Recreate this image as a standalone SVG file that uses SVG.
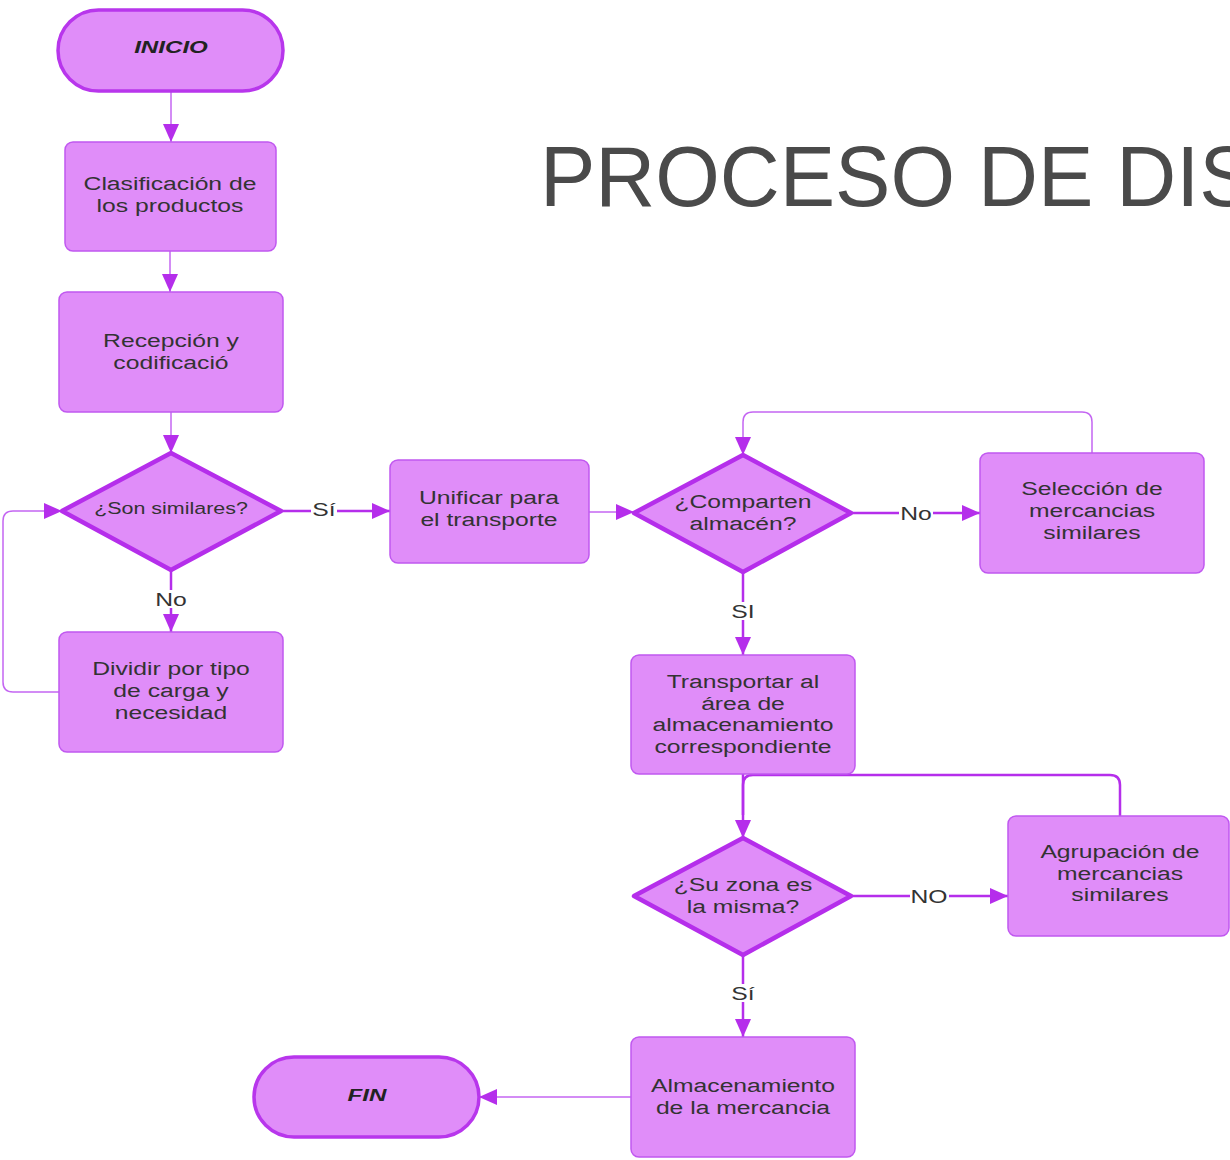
<svg xmlns="http://www.w3.org/2000/svg" width="1230" height="1160" viewBox="0 0 1230 1160">
<style>
.box{fill:#e08df9;stroke:#c058f0;stroke-width:1.5}
.term{fill:#e08df9;stroke:#b836ec;stroke-width:3.5}
.dia{fill:#e08df9;stroke:#b52eeb;stroke-width:4.5;stroke-linejoin:round}
.t{font-family:"Liberation Sans",Arial,sans-serif;font-size:19px;fill:#333;text-anchor:middle}
.tb{font-family:"Liberation Sans",Arial,sans-serif;font-size:17px;font-weight:bold;font-style:italic;fill:#222;text-anchor:middle}
.lbl{font-family:"Liberation Sans",Arial,sans-serif;font-size:19px;fill:#333;text-anchor:middle}
.thin{fill:none;stroke:#c466f2;stroke-width:1.5}
.thick{fill:none;stroke:#b52eeb;stroke-width:2.5}
.bg{fill:#fff}
</style>
<defs>
<marker id="ah" markerWidth="18" markerHeight="16" refX="18" refY="8" orient="auto" markerUnits="userSpaceOnUse">
<path d="M0,0 L18,8 L0,16 z" fill="#b52eeb"/>
</marker>
</defs>
<rect width="1230" height="1160" fill="#fff"/>
<text id="title" x="540" y="206" transform="matrix(0.965 0 0 1 18.9 0)" font-family="'Liberation Sans',Arial,sans-serif" font-size="86" fill="#4a4a4a">PROCESO DE DIS</text>

<g id="connectors">
<path class="thin" d="M171,91 V142" marker-end="url(#ah)"/>
<path class="thin" d="M170,251 V292" marker-end="url(#ah)"/>
<path class="thin" d="M171,412 V453" marker-end="url(#ah)"/>
<path class="thick" d="M281,511 H390" marker-end="url(#ah)"/>
<path class="thick" d="M171,570 V632" marker-end="url(#ah)"/>
<path class="thin" d="M59,692 H13 Q3,692 3,682 V521 Q3,511 13,511 H62" marker-end="url(#ah)"/>
<path class="thin" d="M589,512 H634" marker-end="url(#ah)"/>
<path class="thick" d="M851,513 H980" marker-end="url(#ah)"/>
<path class="thin" d="M1092,453 V422 Q1092,412 1082,412 H753 Q743,412 743,422 V455" marker-end="url(#ah)"/>
<path class="thick" d="M743,572 V655" marker-end="url(#ah)"/>
<path class="thick" d="M743,774 V838" marker-end="url(#ah)"/>
<path class="thick" d="M1120,816 V785 Q1120,775 1110,775 H753 Q743,775 743,785 V815"/>
<path class="thick" d="M851,896 H1008" marker-end="url(#ah)"/>
<path class="thick" d="M743,955 V1037" marker-end="url(#ah)"/>
<path class="thin" d="M631,1097 H479" marker-end="url(#ah)"/>
<rect class="bg" x="311" y="502" width="26" height="18"/>
<text class="lbl" x="324" y="516" transform="matrix(1.3 0 0 1 -97.2 0)">Sí</text>
<rect class="bg" x="154" y="590" width="34" height="18"/>
<text class="lbl" x="171" y="606" transform="matrix(1.3 0 0 1 -51.3 0)">No</text>
<rect class="bg" x="899" y="504" width="34" height="18"/>
<text class="lbl" x="916" y="520" transform="matrix(1.3 0 0 1 -274.8 0)">No</text>
<rect class="bg" x="730" y="602" width="26" height="18"/>
<text class="lbl" x="743" y="618" transform="matrix(1.3 0 0 1 -222.9 0)">SI</text>
<rect class="bg" x="910" y="887" width="39" height="18"/>
<text class="lbl" x="929" y="903" transform="matrix(1.3 0 0 1 -278.7 0)">NO</text>
<rect class="bg" x="730" y="984" width="26" height="18"/>
<text class="lbl" x="743" y="1000" transform="matrix(1.3 0 0 1 -222.9 0)">Sí</text>
</g>

<g id="inicio">
<rect class="term" x="58" y="10" width="225" height="81" rx="40.5"/>
<text class="tb" x="171" y="53" transform="matrix(1.42 0 0 1 -71.82 0)">INICIO</text>
</g>
<g id="clasificacion">
<rect class="box" x="65" y="142" width="211" height="109" rx="8"/>
<text class="t" transform="matrix(1.3 0 0 1 -51 0)"><tspan x="170" y="190">Clasificación de</tspan><tspan x="170" y="212">los productos</tspan></text>
</g>
<g id="recepcion">
<rect class="box" x="59" y="292" width="224" height="120" rx="8"/>
<text class="t" transform="matrix(1.3 0 0 1 -51.3 0)"><tspan x="171" y="347">Recepción y</tspan><tspan x="171" y="369">codificació</tspan></text>
</g>
<g id="son-similares">
<polygon class="dia" points="171,453 281,511 171,570 62,511"/>
<text class="t" style="font-size:16.5px" x="171" y="514" transform="matrix(1.3 0 0 1 -51.3 0)">¿Son similares?</text>
</g>
<g id="dividir">
<rect class="box" x="59" y="632" width="224" height="120" rx="8"/>
<text class="t" transform="matrix(1.3 0 0 1 -51.3 0)"><tspan x="171" y="675">Dividir por tipo</tspan><tspan x="171" y="697">de carga y</tspan><tspan x="171" y="719">necesidad</tspan></text>
</g>
<g id="unificar">
<rect class="box" x="390" y="460" width="199" height="103" rx="8"/>
<text class="t" transform="matrix(1.3 0 0 1 -146.7 0)"><tspan x="489" y="504">Unificar para</tspan><tspan x="489" y="526">el transporte</tspan></text>
</g>
<g id="comparten">
<polygon class="dia" points="743,455 851,513 743,572 634,513"/>
<text class="t" transform="matrix(1.3 0 0 1 -222.9 0)"><tspan x="743" y="508">¿Comparten</tspan><tspan x="743" y="530">almacén?</tspan></text>
</g>
<g id="seleccion">
<rect class="box" x="980" y="453" width="224" height="120" rx="8"/>
<text class="t" transform="matrix(1.3 0 0 1 -327.6 0)"><tspan x="1092" y="495">Selección de</tspan><tspan x="1092" y="517">mercancias</tspan><tspan x="1092" y="539">similares</tspan></text>
</g>
<g id="transportar">
<rect class="box" x="631" y="655" width="224" height="119" rx="8"/>
<text class="t" transform="matrix(1.3 0 0 1 -222.9 0)"><tspan x="743" y="688">Transportar al</tspan><tspan x="743" y="710">área de</tspan><tspan x="743" y="731">almacenamiento</tspan><tspan x="743" y="753">correspondiente</tspan></text>
</g>
<g id="su-zona">
<polygon class="dia" points="743,838 851,896 743,955 634,896"/>
<text class="t" transform="matrix(1.3 0 0 1 -222.9 0)"><tspan x="743" y="891">¿Su zona es</tspan><tspan x="743" y="913">la misma?</tspan></text>
</g>
<g id="agrupacion">
<rect class="box" x="1008" y="816" width="221" height="120" rx="8"/>
<text class="t" transform="matrix(1.3 0 0 1 -336 0)"><tspan x="1120" y="858">Agrupación de</tspan><tspan x="1120" y="880">mercancias</tspan><tspan x="1120" y="901">similares</tspan></text>
</g>
<g id="almacenamiento">
<rect class="box" x="631" y="1037" width="224" height="120" rx="8"/>
<text class="t" transform="matrix(1.3 0 0 1 -222.9 0)"><tspan x="743" y="1092">Almacenamiento</tspan><tspan x="743" y="1114">de la mercancia</tspan></text>
</g>
<g id="fin">
<rect class="term" x="254" y="1057" width="225" height="80" rx="40"/>
<text class="tb" x="367" y="1101" transform="matrix(1.42 0 0 1 -154.14 0)">FIN</text>
</g>
</svg>
